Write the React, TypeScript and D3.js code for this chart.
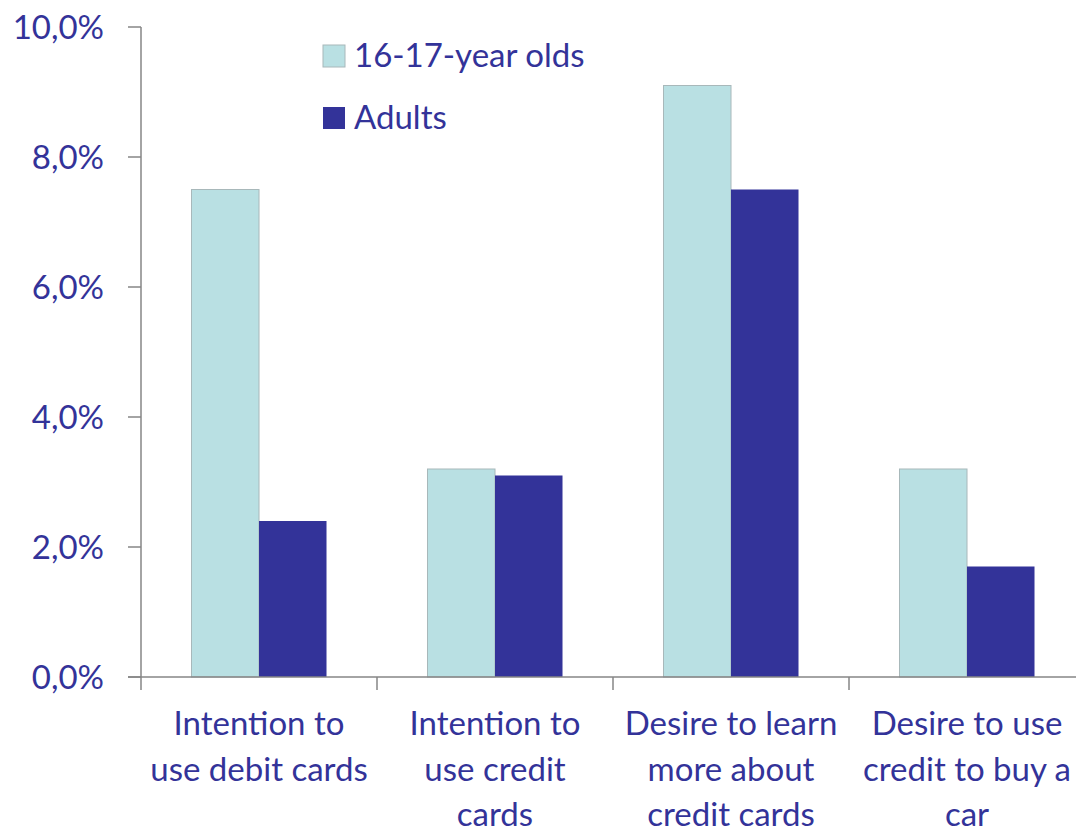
import React from "react";
import * as d3 from "d3";

const categories = [
  ["Intention to", "use debit cards"],
  ["Intention to", "use credit", "cards"],
  ["Desire to learn", "more about", "credit cards"],
  ["Desire to use", "credit to buy a", "car"],
];
const seriesNames = ["16-17-year olds", "Adults"];
const teens = [7.5, 3.2, 9.1, 3.2];
const adults = [2.4, 3.1, 7.5, 1.7];
const yTicks = [0, 2, 4, 6, 8, 10];

const W = 1076, H = 830;
const FONT = "Lato, 'Open Sans', sans-serif";
const TEXT = "#333399";
const AXIS = "#868686";
const colors = ["#B9E0E3", "#333399"];

export default function App() {
  const x = d3.scaleBand<number>().domain(d3.range(categories.length)).range([141, 1085]).paddingInner(0).paddingOuter(0);
  const x1 = d3.scaleBand<number>().domain([0, 1]).range([0, x.bandwidth()]).paddingInner(0).paddingOuter(0.748);
  const y = d3.scaleLinear().domain([0, 10]).range([677, 27]);
  const series = [teens, adults];
  const fmt = (v: number) => v.toFixed(1).replace(".", ",") + "%";
  return (
    <svg width={W} height={H} style={{ position: "absolute", left: 0, top: 0, background: "#fff" }}>
      <rect width={W} height={H} fill="#fff" />
      {series.map((vals, s) =>
        vals.map((v, i) => (
          <rect key={`${s}-${i}`} x={(x(i) as number) + (x1(s) as number)} y={y(v)} width={x1.bandwidth()} height={y(0) - y(v)}
            fill={colors[s]} stroke={s === 0 ? "#A8B8BA" : "none"} strokeWidth={s === 0 ? 1 : 0} />
        ))
      )}
      {/* y axis */}
      <line x1={141} x2={141} y1={y(10)} y2={y(0)} stroke={AXIS} strokeWidth={1.5} />
      {yTicks.map((t) => (
        <g key={t}>
          <line x1={128} x2={141} y1={y(t)} y2={y(t)} stroke={AXIS} strokeWidth={1.5} />
          <text x={104} y={y(t)} dy="0.36em" textAnchor="end" fontFamily={FONT} fontSize={33} fill={TEXT}>{fmt(t)}</text>
        </g>
      ))}
      {/* x axis */}
      <line x1={128} x2={W} y1={y(0)} y2={y(0)} stroke={AXIS} strokeWidth={1.5} />
      {d3.range(categories.length + 1).map((i) => {
        const xx = 141 + i * x.bandwidth();
        return <line key={i} x1={xx} x2={xx} y1={y(0)} y2={690} stroke={AXIS} strokeWidth={1.5} />;
      })}
      {categories.map((lines, i) => (
        <text key={i} textAnchor="middle" fontFamily={FONT} fontSize={33} fill={TEXT}>
          {lines.map((l, j) => (
            <tspan key={j} x={(x(i) as number) + x.bandwidth() / 2} y={735 + j * 45.5}>{l}</tspan>
          ))}
        </text>
      ))}
      {/* legend */}
      {seriesNames.map((n, s) => (
        <g key={n}>
          <rect x={323} y={45 + s * 62} width={22} height={22} fill={colors[s]} stroke={s === 0 ? "#A8B8BA" : "none"} />
          <text x={354} y={67 + s * 62} fontFamily={FONT} fontSize={33} fill={TEXT}>{n}</text>
        </g>
      ))}
    </svg>
  );
}
